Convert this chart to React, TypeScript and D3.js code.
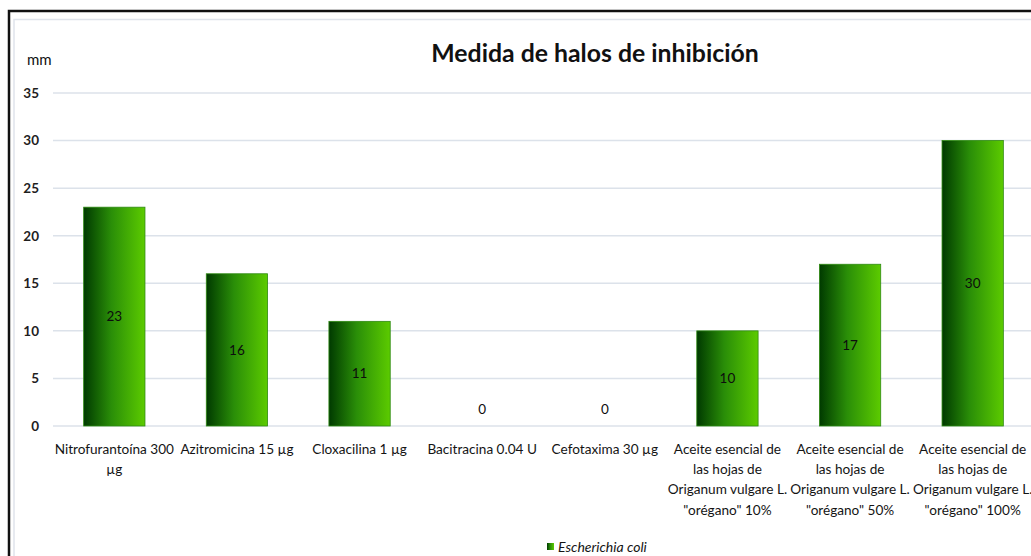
import React, { useEffect, useRef } from 'react';
import * as d3 from 'd3';

// chart data
const categories = [
  'Nitrofurantoína 300\nµg',
  'Azitromicina 15 µg',
  'Cloxacilina 1 µg',
  'Bacitracina 0.04 U',
  'Cefotaxima 30 µg',
  'Aceite esencial de\nlas hojas de\nOriganum vulgare L.\n"orégano" 10%',
  'Aceite esencial de\nlas hojas de\nOriganum vulgare L.\n"orégano" 50%',
  'Aceite esencial de\nlas hojas de\nOriganum vulgare L.\n"orégano" 100%',
];
const values = [23, 16, 11, 0, 0, 10, 17, 30];
const yTicks = [0, 5, 10, 15, 20, 25, 30, 35];
const seriesName = 'Escherichia coli';
const chartTitle = 'Medida de halos de inhibición';
const yUnit = 'mm';

const FONT = 'Lato, "Open Sans", sans-serif';

const App = () => {
  const ref = useRef<SVGSVGElement | null>(null);

  useEffect(() => {
    const width = 1031;
    const height = 556;
    const svg = d3.select(ref.current);
    svg.selectAll('*').remove();

    // gradient for bars
    const defs = svg.append('defs');
    const grad = defs.append('linearGradient')
      .attr('id', 'barGrad')
      .attr('x1', '0%').attr('x2', '100%')
      .attr('y1', '0%').attr('y2', '0%');
    grad.append('stop').attr('offset', '0%').attr('stop-color', '#003a00');
    grad.append('stop').attr('offset', '45%').attr('stop-color', '#2a8e08');
    grad.append('stop').attr('offset', '100%').attr('stop-color', '#5ccb00');

    svg.append('rect')
      .attr('width', width).attr('height', height)
      .attr('fill', '#fff');

    // frame: outer black, inner light grey
    svg.append('rect')
      .attr('x', 9).attr('y', 11)
      .attr('width', width + 20).attr('height', height + 20)
      .attr('fill', 'none')
      .attr('stroke', '#111')
      .attr('stroke-width', 2.5);
    svg.append('rect')
      .attr('x', 14).attr('y', 19.5)
      .attr('width', width + 20).attr('height', height + 20)
      .attr('fill', 'none')
      .attr('stroke', '#dfe4ec')
      .attr('stroke-width', 1.5);

    const x = d3.scaleBand()
      .domain(categories)
      .range([53, 1034])
      .paddingInner(0.5)
      .paddingOuter(0.25);

    const y = d3.scaleLinear()
      .domain([0, 35])
      .range([426, 93]);

    // gridlines
    svg.append('g')
      .selectAll('line')
      .data(yTicks)
      .enter()
      .append('line')
      .attr('x1', 53)
      .attr('x2', width + 10)
      .attr('y1', d => y(d))
      .attr('y2', d => y(d))
      .attr('stroke', '#dce2ea')
      .attr('stroke-width', 1.5);

    // y tick labels
    svg.append('g')
      .selectAll('text')
      .data(yTicks)
      .enter()
      .append('text')
      .attr('x', 39)
      .attr('y', d => y(d))
      .attr('dy', '0.36em')
      .attr('text-anchor', 'end')
      .style('font-family', FONT)
      .style('font-size', '13.5px')
      .style('font-weight', 'bold')
      .style('fill', '#1f1f1f')
      .text(d => d);

    svg.append('text')
      .attr('x', 27).attr('y', 65)
      .style('font-family', FONT)
      .style('font-size', '15px')
      .style('fill', '#111')
      .text(yUnit);

    // title
    svg.append('text')
      .attr('x', 595).attr('y', 62)
      .attr('text-anchor', 'middle')
      .style('font-family', FONT)
      .style('font-size', '24.8px')
      .style('font-weight', 'bold')
      .style('fill', '#111')
      .text(chartTitle);

    // bars
    svg.append('g')
      .selectAll('rect')
      .data(values)
      .enter()
      .append('rect')
      .attr('x', (d, i) => x(categories[i]) as number)
      .attr('y', d => y(d))
      .attr('width', x.bandwidth())
      .attr('height', d => y(0) - y(d))
      .attr('fill', 'url(#barGrad)')
      .attr('stroke', d => (d > 0 ? '#2f8a12' : 'none'))
      .attr('stroke-width', 0.8);

    // value labels
    svg.append('g')
      .selectAll('text')
      .data(values)
      .enter()
      .append('text')
      .attr('x', (d, i) => (x(categories[i]) as number) + x.bandwidth() / 2)
      .attr('y', d => (d > 0 ? y(d / 2) : y(0) - 17))
      .attr('dy', '0.35em')
      .attr('text-anchor', 'middle')
      .style('font-family', FONT)
      .style('font-size', '13.5px')
      .style('fill', '#0d0d0d')
      .text(d => d);

    // category labels
    const cat = svg.append('g')
      .selectAll('text')
      .data(categories)
      .enter()
      .append('text')
      .attr('x', d => (x(d) as number) + x.bandwidth() / 2)
      .attr('y', 449)
      .attr('text-anchor', 'middle')
      .style('font-family', FONT)
      .style('font-size', '13.6px')
      .style('fill', '#141414');
    cat.each(function (d) {
      const t = d3.select(this);
      d.split('\n').forEach((line, k) => {
        t.append('tspan')
          .attr('x', (x(d) as number) + x.bandwidth() / 2)
          .attr('y', 449 + k * 20.3)
          .attr('dy', '0.35em')
          .text(line);
      });
    });

    // legend
    svg.append('rect')
      .attr('x', 547).attr('y', 543)
      .attr('width', 7).attr('height', 7)
      .attr('fill', 'url(#barGrad)');
    svg.append('text')
      .attr('x', 558).attr('y', 551.5)
      .style('font-family', FONT)
      .style('font-size', '14px')
      .style('font-style', 'italic')
      .style('fill', '#141414')
      .text(seriesName);
  }, []);

  return (
    <svg
      ref={ref}
      width={1031}
      height={556}
      style={{ position: 'absolute', left: 0, top: 0, display: 'block' }}
    />
  );
};

export default App;
